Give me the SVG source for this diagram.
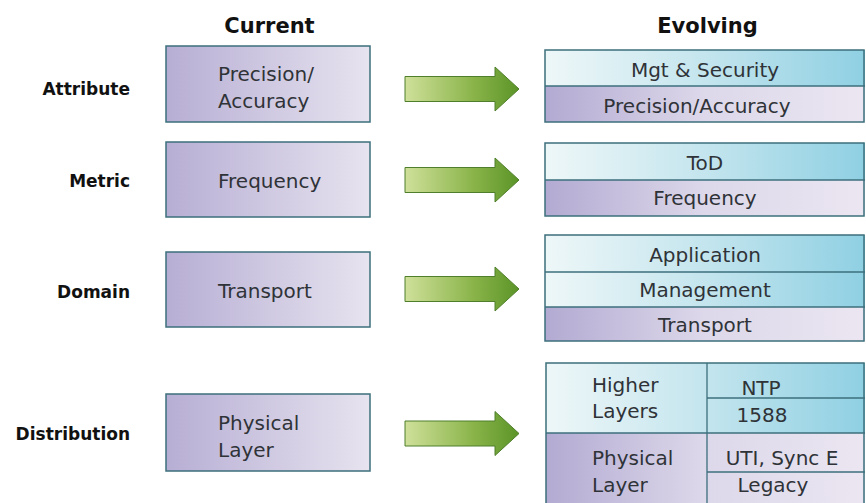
<svg xmlns="http://www.w3.org/2000/svg" xmlns:xlink="http://www.w3.org/1999/xlink" width="866" height="503" viewBox="0 0 866 503">
<style>
  text { font-family: "DejaVu Sans", "Liberation Sans", sans-serif; fill: #2f3338; }
  .hdr { font-size: 21px; font-weight: bold; fill: #111; text-anchor: middle; }
  .lbl { font-size: 17px; font-weight: bold; fill: #111; text-anchor: end; }
  .t { font-size: 20px; }
  .c { text-anchor: middle; }
  .box { stroke: #3d6f7c; stroke-width: 1.5; }
  .div { stroke: #3d6f7c; stroke-width: 1.3; fill: none; }
  .cur { fill: url(#gPurpleL); }
  .pur { fill: url(#gPurpleR); }
  .blu { fill: url(#gBlueR); }
  .arrow { fill: url(#gGreen); stroke: #4f7f2a; stroke-width: 1; }
</style>
<defs>
  <linearGradient id="gPurpleL" gradientUnits="userSpaceOnUse" x1="166" y1="0" x2="370" y2="0">
    <stop offset="0" stop-color="#b7aed4"/>
    <stop offset="1" stop-color="#e7e3ef"/>
  </linearGradient>
  <linearGradient id="gPurpleR" gradientUnits="userSpaceOnUse" x1="545" y1="0" x2="865" y2="0">
    <stop offset="0" stop-color="#b3aad2"/>
    <stop offset="0.5" stop-color="#ddd8ea"/>
    <stop offset="1" stop-color="#ebe6f1"/>
  </linearGradient>
  <linearGradient id="gBlueR" gradientUnits="userSpaceOnUse" x1="545" y1="0" x2="865" y2="0">
    <stop offset="0" stop-color="#eef7f8"/>
    <stop offset="0.5" stop-color="#c4e5ee"/>
    <stop offset="1" stop-color="#8fd0e3"/>
  </linearGradient>
  <linearGradient id="gGreen" x1="0" y1="0" x2="1" y2="0">
    <stop offset="0" stop-color="#cfe09a"/>
    <stop offset="0.6" stop-color="#8ab44a"/>
    <stop offset="1" stop-color="#5b9428"/>
  </linearGradient>
  <path id="arr" d="M405,-12.5 L495,-12.5 L495,-22 L519,0 L495,22 L495,12.5 L405,12.5 Z"/>
</defs>

<rect width="866" height="503" fill="#ffffff"/>

<g id="headers">
  <text class="hdr" x="269.5" y="33">Current</text>
  <text class="hdr" x="707.5" y="33">Evolving</text>
</g>

<g id="labels">
  <text class="lbl" x="130" y="95">Attribute</text>
  <text class="lbl" x="130" y="187">Metric</text>
  <text class="lbl" x="130" y="298">Domain</text>
  <text class="lbl" x="130" y="440">Distribution</text>
</g>

<g id="cur-attribute">
  <rect class="box cur" x="166" y="46" width="204" height="76"/>
  <text class="t" x="218" y="81">Precision/</text>
  <text class="t" x="218" y="108">Accuracy</text>
</g>
<g id="cur-metric">
  <rect class="box cur" x="166" y="142" width="204" height="75"/>
  <text class="t" x="218" y="188">Frequency</text>
</g>
<g id="cur-domain">
  <rect class="box cur" x="166" y="252" width="204" height="75"/>
  <text class="t" x="218" y="298">Transport</text>
</g>
<g id="cur-distribution">
  <rect class="box cur" x="166" y="394" width="204" height="77"/>
  <text class="t" x="218" y="430">Physical</text>
  <text class="t" x="218" y="457">Layer</text>
</g>

<g id="connectors">
  <use xlink:href="#arr" class="arrow" transform="translate(0,89)"/>
  <use xlink:href="#arr" class="arrow" transform="translate(0,180)"/>
  <use xlink:href="#arr" class="arrow" transform="translate(0,289)"/>
  <use xlink:href="#arr" class="arrow" transform="translate(0,433.5)"/>
</g>

<g id="evo-attribute">
  <rect class="blu" x="545" y="50" width="320" height="36"/>
  <rect class="pur" x="545" y="86" width="320" height="36"/>
  <rect class="box" fill="none" x="545" y="50" width="319" height="72"/>
  <line class="div" x1="545" y1="86" x2="865" y2="86"/>
  <text class="t c" x="705" y="77">Mgt &amp; Security</text>
  <text class="t c" x="697" y="113">Precision/Accuracy</text>
</g>

<g id="evo-metric">
  <rect class="blu" x="545" y="143" width="320" height="37"/>
  <rect class="pur" x="545" y="180" width="320" height="36"/>
  <rect class="box" fill="none" x="545" y="143" width="319" height="73"/>
  <line class="div" x1="545" y1="180" x2="865" y2="180"/>
  <text class="t c" x="705" y="170">ToD</text>
  <text class="t c" x="705" y="205">Frequency</text>
</g>

<g id="evo-domain">
  <rect class="blu" x="545" y="235" width="320" height="72"/>
  <rect class="pur" x="545" y="307" width="320" height="34"/>
  <rect class="box" fill="none" x="545" y="235" width="319" height="106"/>
  <line class="div" x1="545" y1="272" x2="865" y2="272"/>
  <line class="div" x1="545" y1="307" x2="865" y2="307"/>
  <text class="t c" x="705" y="262">Application</text>
  <text class="t c" x="705" y="297">Management</text>
  <text class="t c" x="705" y="332">Transport</text>
</g>

<g id="evo-distribution">
  <rect class="blu" x="546" y="363" width="319" height="70"/>
  <rect class="pur" x="546" y="433" width="319" height="70"/>
  <rect class="box" fill="none" x="546" y="363" width="318" height="142"/>
  <line class="div" x1="707" y1="363" x2="707" y2="503"/>
  <line class="div" x1="546" y1="433" x2="865" y2="433"/>
  <line class="div" x1="707" y1="398" x2="865" y2="398"/>
  <line class="div" x1="707" y1="472" x2="865" y2="472"/>
  <text class="t" x="592" y="392">Higher</text>
  <text class="t" x="592" y="418">Layers</text>
  <text class="t" x="592" y="465">Physical</text>
  <text class="t" x="592" y="492">Layer</text>
  <text class="t c" x="761" y="395">NTP</text>
  <text class="t c" x="762" y="422">1588</text>
  <text class="t c" x="782" y="465">UTI, Sync E</text>
  <text class="t c" x="773" y="492">Legacy</text>
</g>
</svg>
